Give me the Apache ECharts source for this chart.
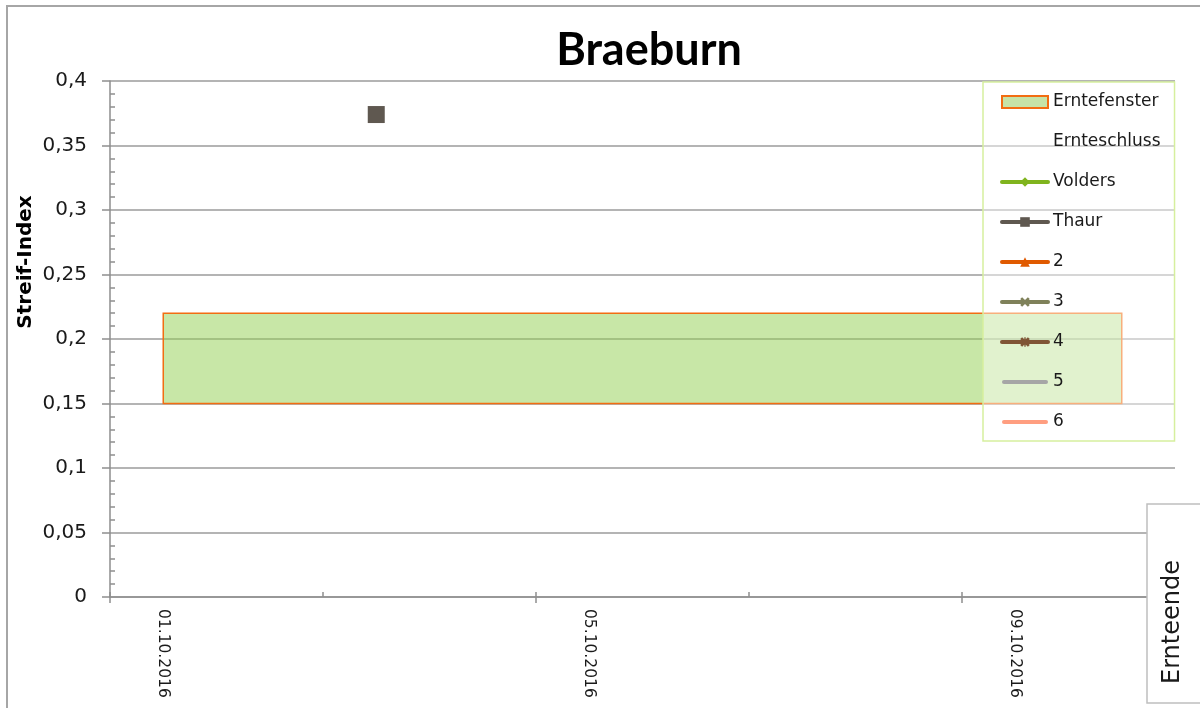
<!DOCTYPE html>
<html><head><meta charset="utf-8">
<script src="https://cdn.jsdelivr.net/npm/echarts@6/dist/echarts.min.js"></script>
<style>html,body{margin:0;padding:0;background:#fff}#c{width:1200px;height:708px}</style>
</head><body><div id="c"></div>
<script>
// ---- data ----
const dates = ['01.10.2016','02.10.2016','03.10.2016','04.10.2016','05.10.2016','06.10.2016','07.10.2016','08.10.2016','09.10.2016','10.10.2016'];
const windowDates = ['01.10.2016','10.10.2016'];   // Erntefenster start / end
const windowValues = [0.15, 0.22];                 // Erntefenster low / high
const volders = [];
const thaur = [null, null, 0.374, null, null, null, null, null, null, null];
const s2 = [], s3 = [], s4 = [], s5 = [], s6 = [], ernteschluss = [];
const yMin = 0, yMax = 0.4, yStep = 0.05;

const FONT = 'DejaVu Sans';
const axisGray = '#8e8e8e';
const xPath = 'path://M2,0L5,3L8,0L10,2L7,5L10,8L8,10L5,7L2,10L0,8L3,5L0,2Z';
const starPath = 'path://M2,0L5,3L8,0L10,2L7,5L10,8L8,10L5,7L2,10L0,8L3,5L0,2ZM4.3,0H5.7V10H4.3Z';
const barIcon = 'path://M2,0H44A2,2 0 0 1 44,4H2A2,2 0 0 1 2,0Z';

const chart = echarts.init(document.getElementById('c'), null, {renderer: 'canvas'});

function lineSeries(name, data, color, symbol) {
  return {
    name, type: 'line', data, xAxisIndex: 0, yAxisIndex: 0,
    symbol: symbol || 'none', symbolSize: 10,
    itemStyle: {color}, lineStyle: {color, width: 4, cap: 'round'},
    connectNulls: false
  };
}

const option = {
  animation: false,
  backgroundColor: '#fff',
  title: {
    text: 'Braeburn', left: 644, textAlign: 'center', top: 23,
    textStyle: {fontFamily: 'Lato', fontWeight: 'bold', fontSize: 45, color: '#000'}
  },
  grid: {left: 110, right: 25, top: 81, bottom: 111, containLabel: false, outerBoundsMode: 'none'},
  xAxis: [
    {
      type: 'category', data: dates, boundaryGap: true, position: 'bottom',
      axisLine: {show: true, lineStyle: {color: axisGray, width: 1.5}},
      axisTick: {show: true, interval: 3, length: 6, lineStyle: {color: axisGray, width: 1.5}},
      axisLabel: {interval: 3, rotate: -90, margin: 12, fontSize: 15.5, fontFamily: FONT, color: '#1a1a1a'},
      splitLine: {show: false}
    },
    {
      type: 'category', data: dates, boundaryGap: true, position: 'bottom',
      axisLine: {show: false},
      axisTick: {show: true, inside: true, interval: 1, length: 5, lineStyle: {color: axisGray, width: 1.5}},
      axisLabel: {show: false}, splitLine: {show: false}
    }
  ],
  yAxis: [
    {
      type: 'value', min: yMin, max: yMax, interval: yStep, position: 'left',
      axisLine: {show: true, lineStyle: {color: axisGray, width: 1.5}},
      axisTick: {show: true, length: 8, lineStyle: {color: axisGray, width: 1.5}},
      axisLabel: {margin: 23, fontSize: 20, fontFamily: FONT, color: '#1a1a1a',
        formatter: v => String(+v.toFixed(2)).replace('.', ',')},
      splitLine: {show: true, lineStyle: {color: '#9b9b9b', width: 1.5}}
    },
    {
      type: 'value', min: yMin, max: yMax, interval: yStep, position: 'left',
      axisLine: {show: false},
      axisTick: {show: false, inside: true},
      minorTick: {show: true, splitNumber: 5, length: 5, lineStyle: {color: axisGray, width: 1.5}},
      axisLabel: {show: false}, splitLine: {show: false}
    }
  ],
  legend: {
    orient: 'vertical', left: 983, top: 82,
    itemWidth: 46, itemHeight: 12, itemGap: 20,
    padding: [10, 14, 9, 17],
    backgroundColor: 'rgba(255,255,255,0.45)',
    borderColor: '#d6ef9e', borderWidth: 1.5, borderRadius: 0,
    selectedMode: false,
    lineStyle: {width: 4, cap: 'round'},
    textStyle: {fontFamily: FONT, fontSize: 17, color: '#1a1a1a', lineHeight: 20},
    data: [
      {name: 'Erntefenster', icon: 'rect', itemStyle: {color: '#c6e3a7', borderColor: '#f26d12', borderWidth: 2}},
      {name: 'Ernteschluss', icon: 'none'},
      'Volders', 'Thaur', '2', '3', '4',
      {name: '5', icon: barIcon, itemStyle: {color: '#a6a6a6'}},
      {name: '6', icon: barIcon, itemStyle: {color: '#ff9e80'}}
    ]
  },
  series: [
    {
      name: 'Erntefenster', type: 'custom', xAxisIndex: 0, yAxisIndex: 0, z: 3,
      encode: {x: [0, 1], y: [2, 3]},
      data: [[dates.indexOf(windowDates[0]), dates.indexOf(windowDates[1]), windowValues[0], windowValues[1]]],
      itemStyle: {color: '#c6e3a7'},
      renderItem: function (params, api) {
        const p1 = api.coord([api.value(0), api.value(3)]);
        const p2 = api.coord([api.value(1), api.value(2)]);
        return {
          type: 'rect',
          shape: {x: p1[0], y: p1[1], width: p2[0] - p1[0], height: p2[1] - p1[1]},
          style: {fill: 'rgba(146,208,80,0.5)', stroke: '#f26d12', lineWidth: 1.5}
        };
      }
    },
    {name: 'Ernteschluss', type: 'line', data: ernteschluss, symbol: 'none', lineStyle: {width: 0}},
    lineSeries('Volders', volders, '#80b41e', 'diamond'),
    Object.assign(lineSeries('Thaur', thaur, '#5f5850', 'rect'), {symbolSize: 17}),
    lineSeries('2', s2, '#e05a00', 'triangle'),
    lineSeries('3', s3, '#7f815a', xPath),
    lineSeries('4', s4, '#7f5535', starPath),
    lineSeries('5', s5, '#a6a6a6'),
    lineSeries('6', s6, '#ff9e80')
  ],
  graphic: [
    {type: 'rect', z: 100, shape: {x: 7, y: 6, width: 1250, height: 760},
      style: {fill: 'none', stroke: '#a6a6a6', lineWidth: 2}, silent: true},
    {type: 'text', z: 100, x: 26, y: 262, rotation: Math.PI / 2,
      style: {text: 'Streif-Index', fontFamily: FONT, fontWeight: 'bold', fontSize: 20, fill: '#000',
        align: 'center', verticalAlign: 'middle'}},
    {type: 'rect', z: 100, shape: {x: 1147, y: 504, width: 80, height: 199},
      style: {fill: '#fff', stroke: '#bfbfbf', lineWidth: 1.5}},
    {type: 'text', z: 101, x: 1173, y: 622, rotation: Math.PI / 2,
      style: {text: 'Ernteende', fontFamily: FONT, fontSize: 24, fill: '#1a1a1a',
        align: 'center', verticalAlign: 'middle'}}
  ]
};
chart.setOption(option);
</script>
</body></html>
